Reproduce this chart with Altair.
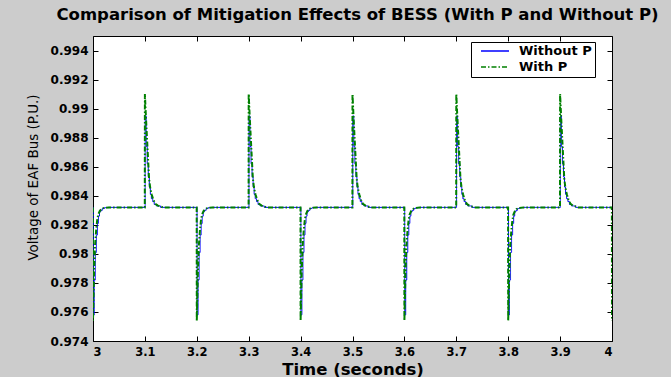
import altair as alt
import pandas as pd

# Event times (seconds)
dip_times = [3.0, 3.2, 3.4, 3.6, 3.8, 4.0]
spike_times = [3.1, 3.3, 3.5, 3.7, 3.9]

# Spike (upward transient) shape, offsets in seconds from event time
spike_off_with = [-0.0002, 0.0, 0.002, 0.004, 0.006, 0.008, 0.010, 0.013, 0.016, 0.020, 0.025, 0.035]
spike_val_with = [0.9832, 0.9910, 0.9894, 0.9880, 0.9866, 0.9852, 0.9846, 0.9841, 0.98375, 0.98345, 0.98332, 0.9832]
spike_off_without = [-0.0002, 0.0005, 0.0025, 0.0045, 0.0065, 0.0085, 0.0105, 0.0125, 0.015, 0.018, 0.022, 0.030]
spike_val_without = [0.9832, 0.9895, 0.9874, 0.9862, 0.9853, 0.9846, 0.9841, 0.9838, 0.9836, 0.9834, 0.9833, 0.9832]

# Dip (downward transient) shape
dip_off_with = [-0.0002, 0.0, 0.002, 0.004, 0.006, 0.008, 0.010, 0.013, 0.016, 0.020, 0.030]
dip_val_with = [0.9832, 0.9754, 0.9786, 0.9806, 0.9816, 0.9823, 0.9827, 0.98295, 0.98308, 0.98315, 0.9832]
dip_off_without = [-0.0002, 0.0005, 0.0025, 0.0045, 0.0065, 0.0085, 0.0105, 0.0125, 0.015, 0.018, 0.022, 0.030]
dip_val_without = [0.9832, 0.9758, 0.9782, 0.9801, 0.9813, 0.9821, 0.9826, 0.9829, 0.9830, 0.98312, 0.98318, 0.9832]

x_ticks = [3.0, 3.1, 3.2, 3.3, 3.4, 3.5, 3.6, 3.7, 3.8, 3.9, 4.0]
y_ticks = [0.974, 0.976, 0.978, 0.98, 0.982, 0.984, 0.986, 0.988, 0.99, 0.992, 0.994]
series_names = ["Without P", "With P"]


def build(series, dip_off, dip_val, spk_off, spk_val):
    rows = []
    for t in dip_times:
        for o, v in zip(dip_off, dip_val):
            rows.append({"t": round(t + o, 6), "v": v, "series": series})
    for t in spike_times:
        for o, v in zip(spk_off, spk_val):
            rows.append({"t": round(t + o, 6), "v": v, "series": series})
    df = pd.DataFrame(rows).sort_values("t").reset_index(drop=True)
    df = df[(df.t >= 2.999) & (df.t <= 4.0)]
    return df


df_without = build("Without P", dip_off_without, dip_val_without, spike_off_without, spike_val_without)
df_with = build("With P", dip_off_with, dip_val_with, spike_off_with, spike_val_with)

FONT = "DejaVu Sans"

xscale = alt.Scale(domain=[3, 4], nice=False, zero=False)
yscale = alt.Scale(domain=[0.974, 0.995], nice=False, zero=False)
color = alt.Color(
    "series:N",
    scale=alt.Scale(domain=series_names, range=["#0000ff", "#008000"]),
    legend=alt.Legend(
        title=None,
        orient="none",
        legendX=378,
        legendY=6,
        fillColor="white",
        strokeColor="black",
        padding=3,
        labelFont=FONT,
        labelFontWeight="bold",
        labelFontSize=13,
        labelColor="black",
        labelExpr="datum.label + '\u2003\u2009'",
        symbolSize=784,
        symbolOffset=6,
        symbolStrokeWidth=1.5,
        clipHeight=12,
        rowPadding=3,
        labelOffset=9,
    ),
)
dash = alt.StrokeDash(
    "series:N",
    scale=alt.Scale(domain=series_names, range=[[1, 0], [5, 2, 1.5, 2]]),
    legend=None,
)

label_x_axis = alt.Axis(
    orient="bottom", values=x_ticks, format="~g", grid=False, ticks=False, domain=False,
    labelFont=FONT, labelFontWeight="bold", labelFontSize=11.5, labelColor="black", labelPadding=5,
    title="Time (seconds)", titleFont=FONT, titleFontWeight="bold", titleFontSize=16.5,
    titleColor="black", titleY=28, titleBaseline="middle",
)
label_y_axis = alt.Axis(
    orient="left", values=y_ticks, format="~g", grid=False, ticks=False, domain=False,
    labelFont=FONT, labelFontWeight="bold", labelFontSize=12, labelColor="black", labelPadding=5,
    title="Voltage of EAF Bus (P.U.)", titleFont=FONT, titleFontWeight="normal", titleFontSize=13.5,
    titleColor="black", titleAngle=270, titleX=-60, titleY=141, titleAlign="center",
    titleBaseline="middle",
)


def tick_axis(orient, vals):
    return alt.Axis(
        orient=orient, values=vals, grid=False, labels=False, domain=False, ticks=True,
        tickSize=5, tickColor="black", tickWidth=1, offset=-5, title=None,
    )


blue = alt.Chart(df_without).mark_line(strokeWidth=1, interpolate="step-after", clip=True).encode(
    x=alt.X("t:Q", scale=xscale, axis=label_x_axis),
    y=alt.Y("v:Q", scale=yscale, axis=label_y_axis),
    color=color,
    strokeDash=dash,
)
green = alt.Chart(df_with).mark_line(strokeWidth=2, clip=True).encode(
    x=alt.X("t:Q", scale=xscale, axis=tick_axis("bottom", x_ticks)),
    y=alt.Y("v:Q", scale=yscale, axis=tick_axis("left", y_ticks)),
    color=color,
    strokeDash=dash,
)
ticks_layer = alt.Chart(df_without).mark_line(opacity=0, clip=True).encode(
    x=alt.X("t:Q", scale=xscale, axis=tick_axis("top", x_ticks)),
    y=alt.Y("v:Q", scale=yscale, axis=tick_axis("right", y_ticks)),
)

chart = (
    alt.layer(blue, green, ticks_layer)
    .resolve_axis(x="independent", y="independent")
    .properties(
        width=519,
        height=305,
        autosize=alt.AutoSizeParams(type="none"),
        padding={"left": 93, "top": 36, "right": 59, "bottom": 36},
        background="#cccccc",
        title=alt.TitleParams(
            "Comparison of Mitigation Effects of BESS (With P and Without P)",
            font=FONT, fontWeight="bold", fontSize=16.5, color="black",
            anchor="middle", offset=12, dx=5,
        ),
    )
    .configure_view(fill="white", stroke="black", strokeWidth=1)
)

chart.save("out.html", embed_options={"renderer": "svg", "actions": False})
